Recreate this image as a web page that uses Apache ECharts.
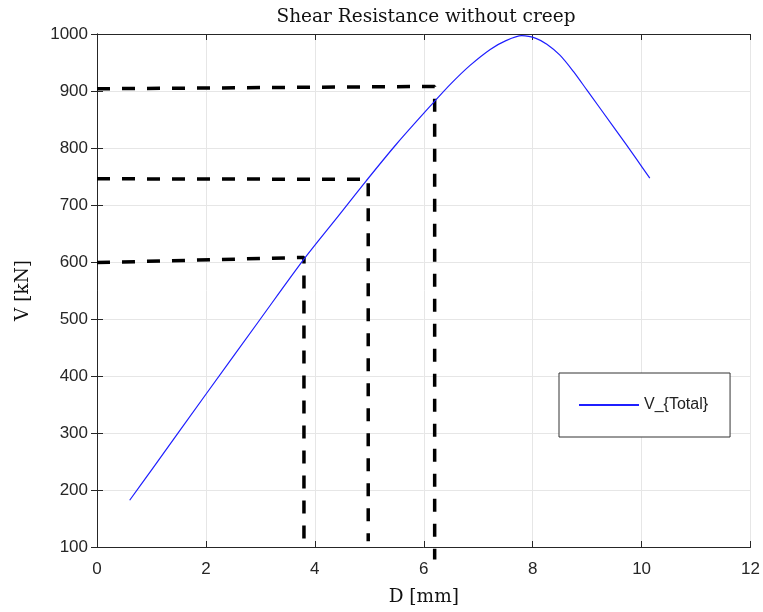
<!DOCTYPE html>
<html>
<head>
<meta charset="utf-8">
<script src="https://cdn.jsdelivr.net/npm/echarts@6/dist/echarts.min.js"></script>
<style>
  html, body { margin: 0; padding: 0; background: #fff; }
  #chart { width: 763px; height: 612px; }
</style>
</head>
<body>
<div id="chart"></div>
<script>
// V_{Total} curve (D in mm, V in kN)
const dValues = [0.6, 1.0, 2.0, 3.0, 3.8, 4.4, 4.94, 5.5, 6.19, 6.5, 6.85, 7.22, 7.5, 7.8, 8.07, 8.26, 8.5, 8.75, 9.0, 9.5, 9.91, 10.15];
const vValues = [182, 235, 368, 500, 605, 677, 742, 807, 881, 913, 945, 973, 988, 997, 992, 982, 963, 934, 901, 835, 780, 747];

// dashed guide lines: [D, V] corners, from the left axis down past the bottom
const guide1 = [[0, 904], [6.2, 908], [6.2, 78]];
const guide2 = [[0, 746], [4.98, 745], [4.98, 110]];
const guide3 = [[0, 599], [3.8, 608], [3.8, 100]];

const xTicks = [0, 2, 4, 6, 8, 10, 12];
const yTicks = [100, 200, 300, 400, 500, 600, 700, 800, 900, 1000];

const chart = echarts.init(document.getElementById('chart'), null, { renderer: 'canvas' });

const axisColor = '#262626';
const gridColor = '#e6e6e6';
const serif = 'DejaVu Serif, Liberation Serif, serif';
const tickFont = { fontFamily: 'Liberation Sans, Arial, sans-serif', fontSize: 17, color: axisColor };

const boxAxis = (extra) => Object.assign({
  axisLine: { show: true, lineStyle: { color: axisColor, width: 1 } },
  axisTick: { show: true, inside: true, length: 6, lineStyle: { color: axisColor } },
  splitLine: { show: false },
  axisLabel: { show: false }
}, extra);

const guideSeries = [guide1, guide2, guide3].map((g, i) => ({
  name: 'guide' + (i + 1),
  type: 'line',
  data: g,
  symbol: 'none',
  clip: false,
  silent: true,
  z: 3,
  lineStyle: { color: '#000', width: 3.5, type: [13, 12] }
}));

const option = {
  animation: false,
  backgroundColor: '#fff',
  title: {
    text: 'Shear Resistance without creep',
    left: 421,
    top: 3,
    textAlign: 'center',
    textStyle: { fontFamily: serif, fontSize: 18.5, fontWeight: 'normal', color: '#111' }
  },
  grid: { left: 97, right: 12, top: 34, bottom: 63, containLabel: false },
  legend: {
    data: ['V_{Total}'],
    left: 559,
    top: 373,
    orient: 'vertical',
    padding: [24, 22, 24, 20],
    itemWidth: 60,
    itemHeight: 2,
    itemGap: 5,
    icon: 'rect',
    borderColor: '#333',
    borderWidth: 1,
    backgroundColor: '#fff',
    textStyle: { fontFamily: 'Liberation Sans, Arial, sans-serif', fontSize: 16, color: '#222' }
  },
  xAxis: [
    {
      type: 'value', min: 0, max: 12, interval: 2,
      name: 'D [mm]', nameLocation: 'middle', nameGap: 41,
      nameTextStyle: { fontFamily: serif, fontSize: 18.5, color: '#111' },
      axisLine: { show: true, onZero: false, lineStyle: { color: axisColor } },
      axisTick: { show: true, inside: true, length: 6, lineStyle: { color: axisColor } },
      axisLabel: Object.assign({ margin: 14 }, tickFont),
      splitLine: { show: true, lineStyle: { color: gridColor, width: 1 } }
    },
    boxAxis({ type: 'value', min: 0, max: 12, interval: 2, position: 'top' })
  ],
  yAxis: [
    {
      type: 'value', min: 100, max: 1000, interval: 100,
      name: 'V [kN]', nameLocation: 'middle', nameGap: 64, nameRotate: 90,
      nameTextStyle: { fontFamily: serif, fontSize: 18.5, color: '#111' },
      axisLine: { show: true, onZero: false, lineStyle: { color: axisColor } },
      axisTick: { show: true, inside: true, length: 6, lineStyle: { color: axisColor } },
      axisLabel: Object.assign({ margin: 9, formatter: (v) => String(v) }, tickFont),
      splitLine: { show: true, lineStyle: { color: gridColor, width: 1 } }
    },
    boxAxis({ type: 'value', min: 100, max: 1000, interval: 100, position: 'right' })
  ],
  series: [
    {
      name: 'V_{Total}',
      type: 'line',
      data: dValues.map((d, i) => [d, vValues[i]]),
      symbol: 'none',
      smooth: 0.3,
      z: 4,
      itemStyle: { color: '#1f1fff' },
      lineStyle: { color: '#1f1fff', width: 1.2 }
    },
    ...guideSeries
  ]
};

chart.setOption(option);
</script>
</body>
</html>
